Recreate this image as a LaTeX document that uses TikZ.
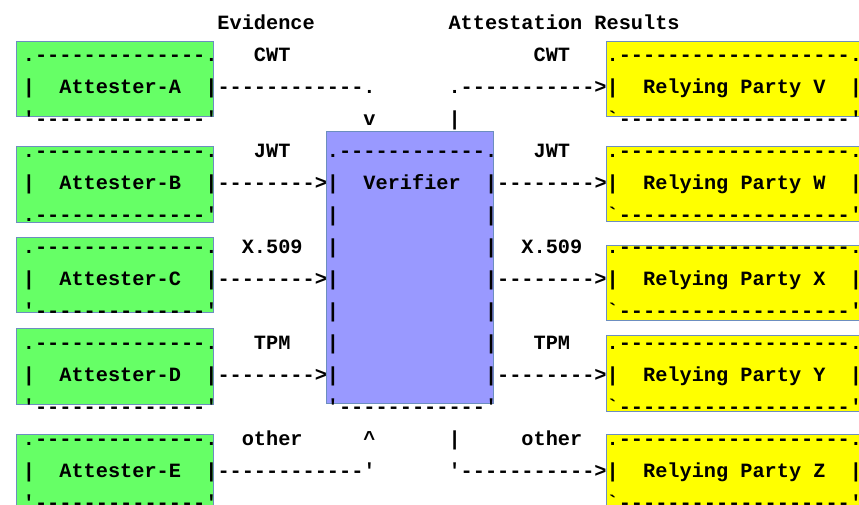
\documentclass[tikz,border=0pt]{standalone}
\usepackage{fontspec}
\newfontfamily\asciifont{Liberation Mono}
\definecolor{edgeblue}{HTML}{6C8EBF}
\definecolor{attgreen}{HTML}{66FF66}
\definecolor{rpyellow}{HTML}{FFFF00}
\definecolor{verpurple}{HTML}{9999FF}
% character cell of the ASCII grid
\newcommand\cellw{12.16}
\newcommand\rowh{32}
% ASCII fragment: name, column, row, text (each ~ is one blank cell)
\newcommand\frag[4]{\node[asc] (#1) at ({22.92+\cellw*#2},{29+\rowh*#3}) {#4};}
% coloured panel: name, style, x1, y1, x2, y2
\newcommand\panel[6]{\node[#2, minimum width={(#5-#3)*1pt}, minimum height={(#6-#4)*1pt}]
  (#1) at ({(#3+#5)/2},{(#4+#6)/2}) {};}
\begin{document}
\begin{tikzpicture}[x=1pt,y=-1pt,
  asc/.style={anchor=base west, inner sep=0pt, outer sep=0pt,
    font=\asciifont\fontsize{20.27}{24}\selectfont\bfseries},
  panelbase/.style={draw=edgeblue, line width=0.9pt, inner sep=0pt, outer sep=0pt, rectangle},
  attbox/.style={panelbase, fill=attgreen},
  rpbox/.style={panelbase, fill=rpyellow},
  verbox/.style={panelbase, fill=verpurple}]
\useasboundingbox (0,0) rectangle (859,504);
\clip (0,0) rectangle (859,504);
\fill[white] (0,0) rectangle (859,504);

% coloured panels
\panel{pA}{attbox}{16.7}{41}{213.3}{116.7}
\panel{pB}{attbox}{16.7}{146.7}{213.3}{222.3}
\panel{pC}{attbox}{16.7}{237.7}{213.3}{312.7}
\panel{pD}{attbox}{16.7}{328.3}{213.3}{404}
\panel{pE}{attbox}{16.7}{434.3}{213.3}{530}
\panel{pVer}{verbox}{326.7}{131.7}{493.3}{403.3}
\panel{pV}{rpbox}{606.7}{41.3}{880}{116.3}
\panel{pW}{rpbox}{606.7}{146.7}{880}{221.7}
\panel{pX}{rpbox}{606.7}{245.7}{880}{320.7}
\panel{pY}{rpbox}{606.7}{335.7}{880}{411}
\panel{pZ}{rpbox}{606.7}{434.3}{880}{530}

% row 0: headings
\frag{hEv}{16}{0}{Evidence}
\frag{hAR}{35}{0}{Attestation~Results}
% row 1
\frag{aTop}{0}{1}{.--------------.}
\frag{lCWT}{19}{1}{CWT}
\frag{rCWT}{42}{1}{CWT}
\frag{vTop}{48}{1}{.-------------------.}
% row 2
\frag{aMid}{0}{2}{|~~Attester-A~~|------------.}
\frag{vMid}{35}{2}{.----------->|~~Relying~Party~V~~|}
% row 3
\frag{aBot}{0}{3}{'--------------'}
\frag{inArrow}{28}{3}{v}
\frag{outBar}{35}{3}{|}
\frag{vBot}{48}{3}{`-------------------'}
% row 4
\frag{bTop}{0}{4}{.--------------.}
\frag{lJWT}{19}{4}{JWT}
\frag{verTop}{25}{4}{.------------.}
\frag{rJWT}{42}{4}{JWT}
\frag{wTop}{48}{4}{.-------------------.}
% row 5
\frag{bMid}{0}{5}{|~~Attester-B~~|-------->|~~Verifier~~|-------->|~~Relying~Party~W~~|}
% row 6
\frag{bBot}{0}{6}{.--------------'}
\frag{verL6}{25}{6}{|}
\frag{verR6}{38}{6}{|}
\frag{wBot}{48}{6}{`-------------------'}
% row 7
\frag{cTop}{0}{7}{.--------------.}
\frag{lX}{18}{7}{X.509}
\frag{verL7}{25}{7}{|}
\frag{verR7}{38}{7}{|}
\frag{rX}{41}{7}{X.509}
\frag{xTop}{48}{7}{.-------------------.}
% row 8
\frag{cMid}{0}{8}{|~~Attester-C~~|-------->|}
\frag{xMid}{38}{8}{|-------->|~~Relying~Party~X~~|}
% row 9
\frag{cBot}{0}{9}{'--------------'}
\frag{verL9}{25}{9}{|}
\frag{verR9}{38}{9}{|}
\frag{xBot}{48}{9}{`-------------------'}
% row 10
\frag{dTop}{0}{10}{.--------------.}
\frag{lTPM}{19}{10}{TPM}
\frag{verL10}{25}{10}{|}
\frag{verR10}{38}{10}{|}
\frag{rTPM}{42}{10}{TPM}
\frag{yTop}{48}{10}{.-------------------.}
% row 11
\frag{dMid}{0}{11}{|~~Attester-D~~|-------->|}
\frag{yMid}{38}{11}{|-------->|~~Relying~Party~Y~~|}
% row 12
\frag{dBot}{0}{12}{'--------------'}
\frag{verBot}{25}{12}{'------------'}
\frag{yBot}{48}{12}{`-------------------'}
% row 13
\frag{eTop}{0}{13}{.--------------.}
\frag{lOther}{18}{13}{other}
\frag{upArrow}{28}{13}{\textasciicircum}
\frag{outBar2}{35}{13}{|}
\frag{rOther}{41}{13}{other}
\frag{zTop}{48}{13}{.-------------------.}
% row 14
\frag{eMid}{0}{14}{|~~Attester-E~~|------------'}
\frag{zMid}{35}{14}{'----------->|~~Relying~Party~Z~~|}
% row 15
\frag{eBot}{0}{15}{'--------------'}
\frag{zBot}{48}{15}{`-------------------'}
\end{tikzpicture}
\end{document}
